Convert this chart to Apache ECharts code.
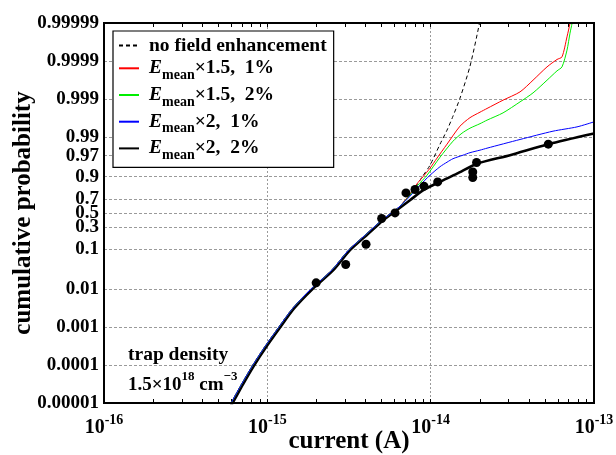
<!DOCTYPE html>
<html><head><meta charset="utf-8">
<script src="https://cdn.jsdelivr.net/npm/echarts@6/dist/echarts.min.js"></script>
<style>html,body{margin:0;padding:0;background:#fff}#c{width:616px;height:455px}</style>
</head><body><div id="c"></div>
<script>
const FONT = 'Liberation Serif';

// ---- tick definitions ----
const yTickProbs  = [0.00001, 0.0001, 0.001, 0.01, 0.1, 0.3, 0.5, 0.7, 0.9, 0.97, 0.99, 0.999, 0.9999, 0.99999];
const yTickLabels = ['0.00001','0.0001','0.001','0.01','0.1','0.3','0.5','0.7','0.9','0.97','0.99','0.999','0.9999','0.99999'];
const xDecades = [-16, -15, -14, -13];          // current = 10^x A
const yMinProb = 0.00001, yMaxProb = 0.99999;

// ---- measured data (current in A, cumulative probability) ----
const measuredCurrent = [1.99e-15, 3.02e-15, 4.02e-15, 5.01e-15, 6.05e-15, 7.06e-15, 8.02e-15, 9.10e-15, 1.104e-14, 1.81e-14, 1.81e-14, 1.91e-14, 5.25e-14];
const measuredProb    = [0.0143, 0.0422, 0.1311, 0.4174, 0.5015, 0.7717, 0.806, 0.8354, 0.8682, 0.8958, 0.9235, 0.9552, 0.9848];

// ---- simulated curves ----
const noFieldCurrent = [5.39e-16, 5.97e-16, 6.93e-16, 8.12e-16, 9.67e-16, 1.171e-15, 1.426e-15, 1.838e-15, 2.48e-15, 3.14e-15, 3.97e-15, 5.02e-15, 6.06e-15, 6.49e-15,
  7.47e-15, 8.21e-15, 8.85e-15, 9.91e-15, 1.141e-14, 1.259e-14, 1.370e-14, 1.512e-14, 1.741e-14, 1.991e-14, 2.033e-14];
const noFieldProb = [4.77e-6, 9.7e-6, 3.06e-5, 9.7e-5, 3.06e-4, 9.7e-4, 0.00306, 0.00961, 0.0303, 0.0949, 0.2067, 0.3927, 0.5424, 0.6016,
  0.752, 0.8435, 0.8975, 0.9477, 0.9848, 0.99342, 0.99718, 0.99905, 0.9998631, 0.99999, 0.9999948];

const e15p1Current = [5.39e-16, 5.97e-16, 6.93e-16, 8.12e-16, 9.67e-16, 1.171e-15, 1.426e-15, 1.838e-15, 2.48e-15, 3.14e-15, 3.97e-15, 5.02e-15, 6.06e-15, 6.49e-15,
  7.47e-15, 8.21e-15, 8.98e-15, 9.91e-15, 1.093e-14, 1.259e-14, 1.512e-14, 1.741e-14, 2.005e-14, 2.213e-14, 2.774e-14, 3.524e-14,
  4.233e-14, 5.157e-14, 5.935e-14, 6.37e-14, 6.833e-14, 7.13e-14, 7.23e-14];
const e15p1Prob = [4.77e-6, 9.7e-6, 3.06e-5, 9.7e-5, 3.06e-4, 9.7e-4, 0.00306, 0.00961, 0.0303, 0.0949, 0.2067, 0.3927, 0.5424, 0.6016,
  0.7576, 0.8514, 0.9002, 0.9379, 0.9652, 0.9848, 0.99484, 0.99691, 0.997784, 0.998227, 0.998928, 0.999351,
  0.99968, 0.9998571, 0.9999088, 0.9999221, 0.9999768, 0.9999899, 0.9999938];

const e15p2Current = [5.39e-16, 5.97e-16, 6.93e-16, 8.12e-16, 9.67e-16, 1.171e-15, 1.426e-15, 1.838e-15, 2.48e-15, 3.14e-15, 3.97e-15, 5.02e-15, 6.06e-15, 6.49e-15,
  7.47e-15, 8.25e-15, 9.50e-15, 1.141e-14, 1.370e-14, 1.555e-14, 1.741e-14, 2.005e-14, 2.213e-14, 2.774e-14, 3.524e-14,
  4.233e-14, 5.157e-14, 5.935e-14, 6.37e-14, 6.833e-14, 7.13e-14, 7.34e-14, 7.44e-14];
const e15p2Prob = [4.77e-6, 9.7e-6, 3.06e-5, 9.7e-5, 3.06e-4, 9.7e-4, 0.00306, 0.00961, 0.0303, 0.0949, 0.2067, 0.3927, 0.5424, 0.6016,
  0.7463, 0.8354, 0.9081, 0.9671, 0.98727, 0.99212, 0.99417, 0.99556, 0.99641, 0.997689, 0.998811,
  0.99931, 0.99968, 0.999818, 0.9998571, 0.9999481, 0.9999815, 0.9999899, 0.9999938];

const e2p1Current = [5.39e-16, 5.97e-16, 6.93e-16, 8.12e-16, 9.67e-16, 1.171e-15, 1.426e-15, 1.838e-15, 2.48e-15, 3.14e-15, 3.97e-15, 5.02e-15, 6.06e-15, 6.49e-15,
  7.47e-15, 8.60e-15, 9.91e-15, 1.141e-14, 1.259e-14, 1.370e-14, 1.578e-14, 1.741e-14, 2.005e-14, 2.213e-14, 3.524e-14, 5.61e-14, 7.87e-14, 1.0e-13];
const e2p1Prob = [4.77e-6, 9.7e-6, 3.06e-5, 9.7e-5, 3.06e-4, 9.7e-4, 0.00306, 0.00961, 0.0303, 0.0949, 0.2067, 0.3927, 0.5424, 0.6016,
  0.7346, 0.8435, 0.9081, 0.943, 0.956, 0.9641, 0.9708, 0.9748, 0.9783, 0.9807, 0.98851, 0.99302, 0.99461, 0.99602];

const e2p2Current = [5.51e-16, 6.10e-16, 7.08e-16, 8.29e-16, 9.88e-16, 1.196e-15, 1.457e-15, 1.877e-15, 2.535e-15, 3.206e-15, 4.055e-15, 5.13e-15, 6.19e-15,
  7.47e-15, 9.02e-15, 1.114e-14, 1.449e-14, 1.923e-14, 3.06e-14, 5.25e-14, 1.0e-13];
const e2p2Prob = [4.77e-6, 9.7e-6, 3.06e-5, 9.7e-5, 3.06e-4, 9.7e-4, 0.00306, 0.00961, 0.0303, 0.0949, 0.2067, 0.3927, 0.5424,
  0.6849, 0.7993, 0.8639, 0.9154, 0.952, 0.9708, 0.9848, 0.99198];

const legendNames = ['no field enhancement', 'Emean×1.5, 1%', 'Emean×1.5, 2%', 'Emean×2, 1%', 'Emean×2, 2%'];
const legendRich = {
  'no field enhancement': '{f|no field enhancement}',
  'Emean×1.5, 1%': '{e|E}{m|mean}{t|×1.5,  1%}',
  'Emean×1.5, 2%': '{e|E}{m|mean}{t|×1.5,  2%}',
  'Emean×2, 1%':   '{e|E}{m|mean}{t|×2,  1%}',
  'Emean×2, 2%':   '{e|E}{m|mean}{t|×2,  2%}'
};

// ---- transforms (probability paper: logit; current: log10) ----
const logit = p => Math.log(p / (1 - p));
const toXY = (cur, prob) => cur.map((c, i) => [Math.log10(c), logit(prob[i])]);
const yTickVals = yTickProbs.map(logit);
const xMinorTicks = [];
for (let d = xDecades[0]; d < xDecades[xDecades.length - 1]; d++) {
  for (let k = 1; k <= 9; k++) xMinorTicks.push(d + Math.log10(k));
}
xMinorTicks.push(xDecades[xDecades.length - 1]);

const tickStyle = {show: true, inside: true, length: 4, customValues: xMinorTicks, lineStyle: {color: '#000', width: 1}};
const bold = {fontFamily: FONT, fontWeight: 'bold', color: '#000'};
const noLine = {show: false, onZero: false};

const chart = echarts.init(document.getElementById('c'), null, {renderer: 'canvas'});
chart.setOption({
  animation: false,
  backgroundColor: '#fff',
  grid: {left: 104, top: 23, width: 490, height: 380, show: true, borderColor: '#000', borderWidth: 2,
         backgroundColor: 'transparent', z: 10, containLabel: false, outerBoundsMode: 'none'},
  xAxis: [
    {
      type: 'value', min: xDecades[0], max: xDecades[xDecades.length - 1], position: 'bottom',
      axisLine: noLine, axisTick: tickStyle, splitLine: {show: false},
      axisLabel: {
        customValues: xDecades, margin: 10,
        formatter: v => '{b|10}{s|' + v + '}',
        rich: {
          b: Object.assign({fontSize: 20, lineHeight: 20, padding: [5, 0, 0, 0], verticalAlign: 'top'}, bold),
          s: Object.assign({fontSize: 14, lineHeight: 14, verticalAlign: 'top'}, bold)
        }
      },
      name: 'current (A)', nameLocation: 'middle', nameGap: 26, nameMoveOverlap: false,
      nameTextStyle: Object.assign({fontSize: 25, lineHeight: 25}, bold)
    },
    {
      type: 'value', min: xDecades[0], max: xDecades[xDecades.length - 1], position: 'top',
      axisLine: noLine, axisTick: tickStyle, axisLabel: {show: false}, splitLine: {show: false}
    },
    {
      type: 'value', min: xDecades[0], max: xDecades[xDecades.length - 1], interval: 1, position: 'bottom',
      axisLine: noLine, axisTick: {show: false}, axisLabel: {show: false},
      splitLine: {show: true, lineStyle: {color: '#9a9a9a', type: [2, 2], width: 1}}
    }
  ],
  yAxis: [{
    type: 'value', min: logit(yMinProb), max: logit(yMaxProb),
    axisLine: noLine,
    axisTick: {show: false, customValues: yTickVals},
    axisLabel: Object.assign({
      customValues: yTickVals, margin: 5, fontSize: 19,
      formatter: v => { const i = yTickVals.findIndex(t => Math.abs(t - v) < 1e-6); return i >= 0 ? yTickLabels[i] : ''; }
    }, bold),
    splitLine: {show: true, lineStyle: {color: '#9a9a9a', type: [3, 2], width: 1}},
    name: 'cumulative probability', nameLocation: 'middle', nameGap: 68, nameMoveOverlap: false,
    nameTextStyle: Object.assign({fontSize: 25, lineHeight: 25}, bold)
  }],
  legend: {
    data: legendNames, orient: 'vertical', left: 113, top: 31,
    itemWidth: 20, itemHeight: 14, itemGap: 2.7, padding: [4.6, 7, 5, 5],
    borderColor: '#000', borderWidth: 1.2, backgroundColor: '#fff', selectedMode: false, z: 20,
    itemStyle: {opacity: 0},
    formatter: name => legendRich[name],
    textStyle: {
      rich: {
        f: Object.assign({fontSize: 19.5, lineHeight: 15, padding: [0, 0, 0, 5]}, bold),
        e: Object.assign({fontSize: 19.5, fontStyle: 'italic', lineHeight: 20, verticalAlign: 'top', padding: [0, 0, 0, 5]}, bold),
        m: Object.assign({fontSize: 14, lineHeight: 14, verticalAlign: 'top', padding: [10, 0, 0, 0]}, bold),
        t: Object.assign({fontSize: 19.5, lineHeight: 20, verticalAlign: 'top'}, bold)
      }
    }
  },
  graphic: [
    {type: 'text', left: 128, top: 345, z: 30,
     style: {text: 'trap density', fontFamily: FONT, fontWeight: 'bold', fontSize: 19.5, lineHeight: 20, fill: '#000'}},
    {type: 'text', left: 128, top: 370, z: 30,
     style: {text: '{a|1.5×10}{s|18}{a| cm}{s|−3}', fill: '#000',
       rich: {
         a: {fontFamily: FONT, fontWeight: 'bold', fontSize: 19, lineHeight: 20, padding: [6, 0, 0, 0], verticalAlign: 'top', fill: '#000'},
         s: {fontFamily: FONT, fontWeight: 'bold', fontSize: 13, lineHeight: 13, verticalAlign: 'top', fill: '#000'}
       }}}
  ],
  series: [
    {name: 'Emean×2, 2%', type: 'line', data: toXY(e2p2Current, e2p2Prob), symbol: 'none', z: 2, smooth: 0.25,
     lineStyle: {color: '#000', width: 2.6}, itemStyle: {color: '#000'}},
    {name: 'no field enhancement', type: 'line', data: toXY(noFieldCurrent, noFieldProb), symbol: 'none', z: 3, smooth: 0.25,
     lineStyle: {color: '#000', width: 1, type: [4, 3]}, itemStyle: {color: '#000'}},
    {name: 'Emean×1.5, 1%', type: 'line', data: toXY(e15p1Current, e15p1Prob), symbol: 'none', z: 3, smooth: 0.25,
     lineStyle: {color: '#ff0000', width: 1}, itemStyle: {color: '#ff0000'}},
    {name: 'Emean×1.5, 2%', type: 'line', data: toXY(e15p2Current, e15p2Prob), symbol: 'none', z: 3, smooth: 0.25,
     lineStyle: {color: '#00ee00', width: 1}, itemStyle: {color: '#00ee00'}},
    {name: 'Emean×2, 1%', type: 'line', data: toXY(e2p1Current, e2p1Prob), symbol: 'none', z: 3, smooth: 0.25,
     lineStyle: {color: '#0000ff', width: 1}, itemStyle: {color: '#0000ff'}},
    {name: 'measured', type: 'scatter', data: toXY(measuredCurrent, measuredProb), symbol: 'circle', symbolSize: 9, z: 5,
     itemStyle: {color: '#000', opacity: 1}}
  ]
});
</script>
</body></html>
